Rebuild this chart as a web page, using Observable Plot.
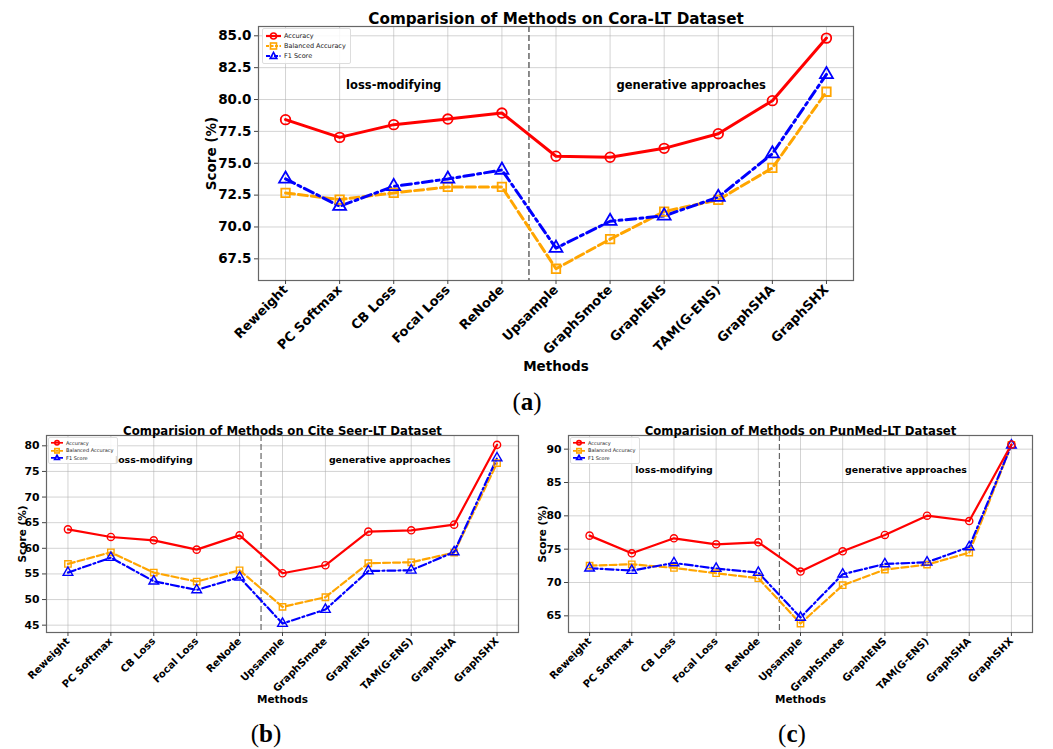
<!DOCTYPE html>
<html><head><meta charset="utf-8">
<script src="https://cdn.jsdelivr.net/npm/d3@7"></script>
<script src="https://cdn.jsdelivr.net/npm/@observablehq/plot@0.6"></script>
<style>
body{margin:0;background:#fff;width:1053px;height:749px;position:relative;overflow:hidden;font-family:"DejaVu Sans",sans-serif;}
.panel{position:absolute;}
.cap{position:absolute;font-family:"Liberation Serif",serif;font-size:25px;color:#000;transform:translate(-50%,-50%);}
.cap b{font-weight:bold;}
.legend{position:absolute;background:rgba(255,255,255,0.85);border:1px solid #ddd;border-radius:2px;font-family:"DejaVu Sans",sans-serif;color:#222;}
.legend .row{display:flex;align-items:center;white-space:nowrap;}
</style></head><body>
<script>
const methods = ["Reweight","PC Softmax","CB Loss","Focal Loss","ReNode","Upsample","GraphSmote","GraphENS","TAM(G-ENS)","GraphSHA","GraphSHX"];
const seriesNames = ["Accuracy","Balanced Accuracy","F1 Score"];

const coraAcc = [78.42,77.03,78.03,78.47,78.94,75.55,75.47,76.17,77.32,79.91,84.82];
const coraBal = [72.67,72.15,72.67,73.14,73.14,66.72,69.04,71.21,72.13,74.63,80.61];
const coraF1  = [73.77,71.63,73.19,73.77,74.47,68.34,70.45,70.87,72.34,75.75,81.97];

const citeAcc = [63.70,62.21,61.56,59.74,62.53,55.13,56.69,63.25,63.51,64.61,80.19];
const citeBal = [56.95,59.22,55.26,53.51,55.71,48.57,50.45,57.08,57.27,59.16,76.62];
const citeF1  = [55.26,58.18,53.57,51.88,54.35,45.32,48.05,55.58,55.71,59.29,77.60];

const pubAcc = [77.03,74.38,76.63,75.73,76.03,71.64,74.68,77.13,80.02,79.22,90.70];
const pubBal = [72.53,72.73,72.19,71.39,70.64,63.85,69.59,71.94,72.68,74.48,90.65];
const pubF1  = [72.14,71.79,72.93,72.09,71.49,64.75,71.24,72.78,73.03,75.33,90.60];

const coraTicks = [67.5,70,72.5,75,77.5,80,82.5,85];
const citeTicks = [45,50,55,60,65,70,75,80];
const pubTicks  = [65,70,75,80,85,90];

const toRows = arr => arr.map((v,i)=>({i, m: methods[i], v}));

function panel(cfg){
  const s = cfg.s;
  const acc = toRows(cfg.acc), bal = toRows(cfg.bal), f1 = toRows(cfg.f1);
  const p = Plot.plot({
    width: cfg.width, height: cfg.height,
    marginLeft: cfg.ml, marginRight: cfg.mr, marginTop: cfg.mt, marginBottom: cfg.mb,
    style: {fontFamily: "DejaVu Sans, sans-serif", fontWeight: "bold", color: "#000", background: "transparent", overflow: "visible"},
    x: {type: "linear", domain: [-0.5, 10.5]},
    y: {domain: cfg.ydom},
    marks: [
      Plot.gridX(d3.range(11), {stroke: "#b0b0b0", strokeOpacity: 0.7, strokeWidth: 0.8}),
      Plot.gridY(cfg.yticks, {stroke: "#b0b0b0", strokeOpacity: 0.7, strokeWidth: 0.8}),
      Plot.ruleX([4.5], {stroke: "#666", strokeWidth: s.rule, strokeDasharray: "6,3"}),
      Plot.line(bal, {x: "i", y: "v", stroke: "#FFA500", strokeWidth: s.lw, strokeDasharray: s.dash}),
      Plot.line(f1, {x: "i", y: "v", stroke: "#0000FF", strokeWidth: s.lw, strokeDasharray: s.dashdot}),
      Plot.line(acc, {x: "i", y: "v", stroke: "#FF0000", strokeWidth: s.lw}),
      Plot.dot(bal, {x: "i", y: "v", symbol: "square", r: s.r, stroke: "#FFA500", strokeWidth: s.mw, fill: "none"}),
      Plot.dot(f1, {x: "i", y: "v", symbol: "triangle", r: s.r, stroke: "#0000FF", strokeWidth: s.mw, fill: "none"}),
      Plot.dot(acc, {x: "i", y: "v", symbol: "circle", r: s.r, stroke: "#FF0000", strokeWidth: s.mw, fill: "none"}),
      Plot.text(["loss-modifying"], {x: 2, y: cfg.annY, fontSize: s.ann, fontWeight: "bold", fill: "#000"}),
      Plot.text(["generative approaches"], {x: 7.5, y: cfg.annY, fontSize: s.ann, fontWeight: "bold", fill: "#000"}),
      Plot.frame({stroke: "#666", strokeWidth: 1.2}),
      Plot.axisY({ticks: cfg.yticks, tickFormat: cfg.yfmt, tickSize: 4, tickPadding: 3, fontSize: s.ytick, fontWeight: "bold", label: null, stroke: "#444"}),
      Plot.axisX({ticks: d3.range(11), tickFormat: i => methods[i], tickRotate: -45, tickSize: 4, tickPadding: 3, fontSize: s.xtick, fontWeight: "bold", label: null, stroke: "#444"}),
      Plot.text([cfg.title], {frameAnchor: "top", dy: cfg.titleDy, fontSize: s.title, fontWeight: "bold", fill: "#000", lineAnchor: "bottom"}),
      Plot.text(["Methods"], {frameAnchor: "bottom", dy: cfg.methDy, fontSize: s.lab, fontWeight: "bold", fill: "#000"}),
      Plot.text(["Score (%)"], {frameAnchor: "left", dx: cfg.scoreDx, rotate: -90, textAnchor: "middle", fontSize: s.lab, fontWeight: "bold", fill: "#000"})
    ]
  });
  const div = document.createElement("div");
  div.className = "panel";
  div.style.left = cfg.left + "px";
  div.style.top = cfg.top + "px";
  div.appendChild(p);
  document.body.appendChild(div);

  // legend
  const lg = document.createElement("div");
  lg.className = "legend";
  lg.style.left = cfg.lgLeft + "px";
  lg.style.top = cfg.lgTop + "px";
  lg.style.padding = s.lgPad;
  lg.style.fontSize = s.lgFont + "px";
  const items = [
    {name: seriesNames[0], color: "#FF0000", dash: "", sym: "circle"},
    {name: seriesNames[1], color: "#FFA500", dash: "3,1.5", sym: "square"},
    {name: seriesNames[2], color: "#0000FF", dash: "4,1.5,1,1.5", sym: "triangle"}
  ];
  const sw = s.lgSw, sh = s.lgRow;
  for (const it of items){
    const row = document.createElement("div");
    row.className = "row";
    row.style.height = sh + "px";
    const c = sw/2, m = sh/2, rr = s.lgR;
    let symbol = "";
    if (it.sym === "circle") symbol = `<circle cx="${c}" cy="${m}" r="${rr}" fill="none" stroke="${it.color}" stroke-width="1.6"/>`;
    else if (it.sym === "square") symbol = `<rect x="${c-rr}" y="${m-rr}" width="${2*rr}" height="${2*rr}" fill="none" stroke="${it.color}" stroke-width="1.6"/>`;
    else symbol = `<path d="M${c},${m-rr*1.2}L${c+rr*1.1},${m+rr*0.8}L${c-rr*1.1},${m+rr*0.8}Z" fill="none" stroke="${it.color}" stroke-width="1.6"/>`;
    row.innerHTML = `<svg width="${sw}" height="${sh}" style="margin-right:${s.lgGap}px"><line x1="0" x2="${sw}" y1="${m}" y2="${m}" stroke="${it.color}" stroke-width="${s.lgLw}" stroke-dasharray="${it.dash}"/>${symbol}</svg><span>${it.name}</span>`;
    lg.appendChild(row);
  }
  document.body.appendChild(lg);
}

const big = {lw: 3, mw: 1.8, r: 4.8, rule: 1.5, dash: "9,4", dashdot: "10,4,3,4", ann: 11.5, ytick: 13.5, xtick: 13, title: 15.2, lab: 13.5,
  lgPad: "2px 4px 2px 3px", lgFont: 6.5, lgSw: 15, lgRow: 10, lgR: 3, lgLw: 2.2, lgGap: 3};
const small = {lw: 2.2, mw: 1.4, r: 3.6, rule: 1.2, dash: "7,3", dashdot: "8,3,2,3", ann: 9.4, ytick: 10.8, xtick: 10.2, title: 11.7, lab: 10.5,
  lgPad: "1px 3px 1px 2px", lgFont: 5, lgSw: 12, lgRow: 7.6, lgR: 2.2, lgLw: 1.7, lgGap: 3};

panel({left: 150, top: 0, width: 760, height: 385, ml: 108, mr: 57, mt: 26, mb: 105,
  ydom: [65.8, 85.73], yticks: coraTicks, yfmt: d3.format(".1f"), annY: 81.08,
  acc: coraAcc, bal: coraBal, f1: coraF1, s: big,
  title: "Comparision of Methods on Cora-LT Dataset", titleDy: -3, methDy: 90, scoreDx: -47,
  lgLeft: 262, lgTop: 28});

panel({left: 0, top: 410, width: 525, height: 300, ml: 46, mr: 7, mt: 25, mb: 78,
  ydom: [43.57, 82.01], yticks: citeTicks, yfmt: d3.format("d"), annY: 77.2,
  acc: citeAcc, bal: citeBal, f1: citeF1, s: small,
  title: "Comparision of Methods on Cite Seer-LT Dataset", titleDy: -1, methDy: 70, scoreDx: -24,
  lgLeft: 48, lgTop: 437});

panel({left: 525, top: 410, width: 528, height: 300, ml: 43, mr: 21, mt: 25, mb: 78,
  ydom: [62.5, 92.05], yticks: pubTicks, yfmt: d3.format("d"), annY: 86.9,
  acc: pubAcc, bal: pubBal, f1: pubF1, s: small,
  title: "Comparision of Methods on PunMed-LT Dataset", titleDy: -1, methDy: 70, scoreDx: -26,
  lgLeft: 570, lgTop: 437});

const caps = [["a",527,402],["b",266,734],["c",792,734]];
for (const [l,x,y] of caps){
  const d = document.createElement("div");
  d.className = "cap";
  d.style.left = x + "px"; d.style.top = y + "px";
  d.innerHTML = `(<b>${l}</b>)`;
  document.body.appendChild(d);
}
</script>
</body></html>
